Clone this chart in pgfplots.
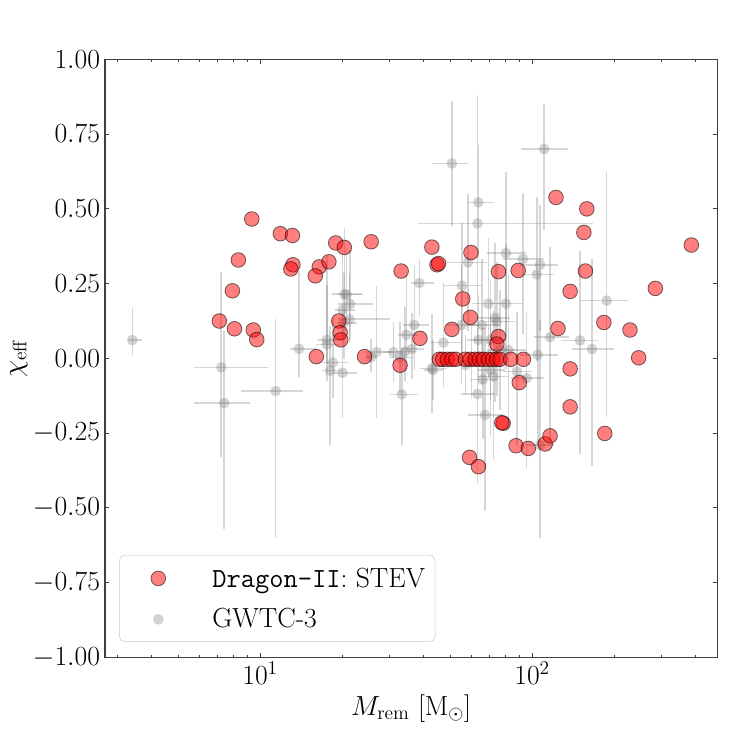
\RequirePackage{fix-cm}
\documentclass[border=0pt]{standalone}
\usepackage{pgfplots}
\pgfplotsset{compat=1.18}
\usepackage{pgfplotstable}

\pgfplotstableread{
x y
9.32 0.466
11.87 0.417
13.15 0.411
8.32 0.329
18.97 0.386
20.4 0.371
25.6 0.390
13.2 0.313
12.97 0.299
16.5 0.306
15.96 0.276
17.9 0.323
33.0 0.292
7.91 0.226
7.08 0.125
8.05 0.099
9.44 0.095
9.72 0.063
19.46 0.125
19.7 0.086
19.8 0.062
16.1 0.006
24.2 0.006
32.7 -0.023
122.4 0.538
42.8 0.372
44.7 0.313
45.3 0.317
59.6 0.354
75.2 0.290
88.9 0.294
138 0.224
55.6 0.199
59.3 0.137
50.7 0.097
124.5 0.100
38.7 0.067
75.2 0.073
74.2 0.048
45.6 -0.003
46.9 -0.003
48.8 -0.003
50.7 -0.003
52.4 -0.003
56.8 -0.003
59.2 -0.003
61.7 -0.003
64.0 -0.003
66.2 -0.003
69.0 -0.003
71.6 -0.003
74.1 -0.003
76.2 -0.003
83.5 -0.003
92.9 -0.003
89.7 -0.081
78.3 -0.217
77.4 -0.215
87.3 -0.292
96.8 -0.301
111.7 -0.286
116.4 -0.259
58.9 -0.331
63.5 -0.362
138 -0.035
138 -0.162
158.9 0.500
155 0.421
385 0.379
157 0.292
283.8 0.234
183.6 0.120
229 0.095
246.5 0.002
185 -0.251
}\reddata

\pgfplotstableread{
x y xm xp ym yp
3.39 0.061 0.11 0.28 0.049 0.109
7.19 -0.030 1.48 3.48 0.30 0.32
7.38 -0.149 1.67 1.81 0.42 0.24
11.4 -0.109 2.87 3.0 0.49 0.24
13.9 0.032 1.0 2.2 0.093 0.26
17.6 0.062 1.3 2.5 0.08 0.28
17.6 0.046 1.5 2.0 0.12 0.20
18.5 -0.014 1.6 2.5 0.12 0.15
18.1 -0.041 1.2 2.0 0.25 0.15
20.1 -0.048 1.5 2.6 0.15 0.20
20.4 0.215 2.0 3.2 0.10 0.22
20.8 0.213 1.5 3.0 0.08 0.15
21.4 0.182 2.0 4.5 0.12 0.18
20.1 0.162 1.2 2.2 0.10 0.20
21.3 0.131 2.0 8.7 0.08 0.15
20.3 0.118 1.2 2.5 0.12 0.17
26.8 0.021 2.5 4.0 0.22 0.22
25.6 0.004 1.0 1.2 0.05 0.06
30.9 0.021 2.5 3.5 0.10 0.10
32.7 0.003 3.0 4.0 0.12 0.12
33.2 -0.120 3.2 5.0 0.17 0.15
34.5 0.079 2.5 3.5 0.12 0.20
36.9 0.112 3.5 5.0 0.15 0.20
36.1 0.031 3.0 4.0 0.10 0.12
34.1 0.023 2.6 3.0 0.10 0.15
38.5 0.252 2.5 5.0 0.11 0.08
42.8 -0.033 4.0 6.0 0.15 0.18
43.2 -0.039 3.0 4.0 0.10 0.10
47.2 0.053 5.0 8.0 0.15 0.20
50.7 0.652 7.7 7.3 0.21 0.21
110.7 0.700 20 25 0.27 0.15
63.4 0.522 6.0 9.0 0.19 0.19
63.0 0.451 25 104 0.44 0.43
80.2 0.352 12 15 0.28 0.27
92.5 0.332 14 18 0.25 0.22
107 0.313 17 18 0.22 0.20
104 0.281 12 16 0.29 0.26
58.1 0.321 10 10 0.23 0.23
55.2 0.243 8 10 0.26 0.21
69.0 0.183 9 11 0.25 0.22
80.2 0.183 10 12 0.22 0.20
73.1 0.135 10 10 0.28 0.25
55.1 0.112 7 9 0.20 0.20
65.4 0.112 8 10 0.20 0.22
74.2 0.123 9 12 0.25 0.20
63.4 0.062 6 7 0.15 0.15
70.2 0.062 9 10 0.20 0.20
81.8 0.028 10 13 0.25 0.25
104.9 0.012 15 20 0.30 0.28
116.4 0.071 15 20 0.35 0.30
95.5 -0.066 12 15 0.30 0.22
65.9 -0.070 7 8 0.20 0.17
72.1 -0.061 9 10 0.28 0.22
63.0 -0.119 8 10 0.30 0.22
67.1 -0.189 9 11 0.32 0.29
59.9 -0.011 5 6 0.12 0.12
87.9 -0.044 10 12 0.25 0.20
56.8 -0.022 5 6 0.10 0.10
188 0.193 38 37 0.39 0.43
166 0.031 26 34 0.39 0.30
150 0.060 22 25 0.38 0.30
107 -0.290 12 13 0.31 0.42
76.2 0.028 8 10 0.20 0.20
70.2 -0.039 7 9 0.22 0.18
}\graydata

\newcommand{\fs}{\fontsize{20}{24}\selectfont}

\begin{document}
\begin{tikzpicture}
\path[use as bounding box] (0,0) rectangle (7.47in,7.47in);
\begin{axis}[
  at={(1.05in,0.895in)}, anchor=south west,
  scale only axis, width=6.123in, height=5.982in,
  xmode=log, xmin=2.69, xmax=479.6, ymin=-1, ymax=1,
  ytick={-1,-0.75,-0.5,-0.25,0,0.25,0.5,0.75,1},
  yticklabel style={/pgf/number format/fixed, /pgf/number format/fixed zerofill, /pgf/number format/precision=2},
  tick label style={font=\fs},
  label style={font=\fs},
  tick align=inside,
  xtick pos=both, ytick pos=both,
  xticklabel pos=lower, yticklabel pos=left,
  major tick length=0.045in, minor tick length=0.025in,
  axis line style={draw=black!75, line width=0.8pt},
  every tick/.append style={draw=black!75, line width=0.7pt},
  xlabel={$M_{\mathrm{rem}}$ [M$_\odot$]},
  ylabel={$\chi_{\mathrm{eff}}$},
  xlabel style={at={(axis description cs:0.5,-0.085)}, anchor=center},
  ylabel style={at={(axis description cs:-0.1405,0.5)}, anchor=center},
  legend cell align=left,
  legend style={at={(axis description cs:0.0229,0.026)}, anchor=south west,
    draw=black!20, rounded corners=4pt, fill=white, font=\fs,
    inner xsep=0.1in, inner ysep=5pt, row sep=6.5pt,
    nodes={inner sep=0pt, text height=18pt, text depth=5pt, anchor=base west}},
  legend image code/.code={\path[draw=none,fill=none] (0pt,0pt) -- (0.83in,0pt); \draw[#1] plot coordinates {(0.29in,6.2pt)};},
]
\addplot[forget plot, only marks, mark=*, mark size=3.9pt,
  mark options={fill=gray, draw=gray, fill opacity=0.35, draw opacity=0, line width=0pt},
  error bars/.cd, x dir=both, x explicit, y dir=both, y explicit, error mark=none,
  error bar style={draw=gray, draw opacity=0.32, line width=1.1pt}]
  table[x=x, y=y, x error minus=xm, x error plus=xp, y error minus=ym, y error plus=yp] {\graydata};
\addplot[only marks, mark=*, mark size=5.3pt,
  mark options={fill=red, fill opacity=0.5, draw=black, draw opacity=0.55, line width=0.6pt}]
  table[x=x, y=y] {\reddata};
\addlegendentry{\texttt{Dragon-II}: STEV}
\addlegendimage{only marks, mark=*, mark size=3.9pt, mark options={fill=gray, draw=gray, fill opacity=0.35, draw opacity=0, line width=0pt}}
\addlegendentry{GWTC-3}
\end{axis}
\end{tikzpicture}
\end{document}
